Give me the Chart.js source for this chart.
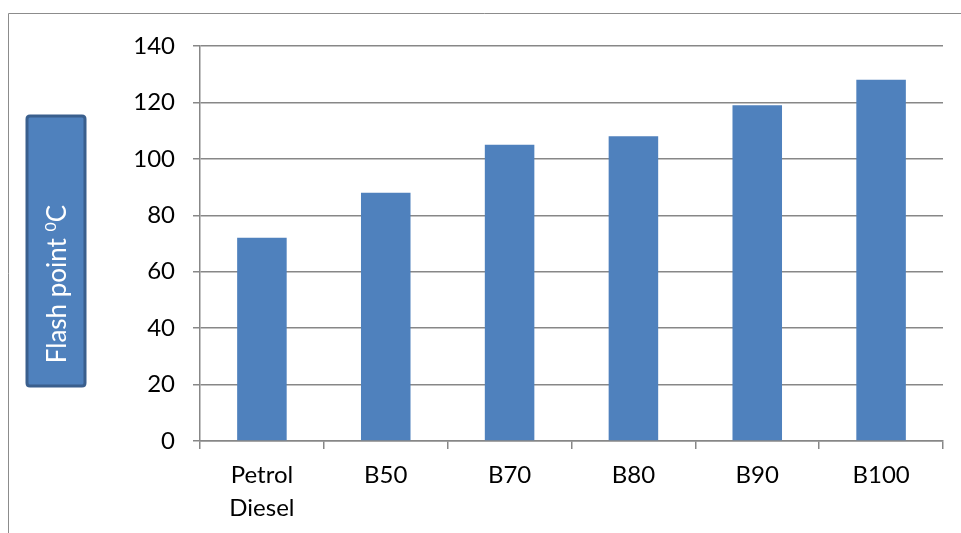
<!DOCTYPE html>
<html>
<head>
<meta charset="utf-8">
<script src="https://cdn.jsdelivr.net/npm/chart.js@4"></script>
<style>
  html, body { margin: 0; padding: 0; background: #ffffff; }
  #wrap { width: 961px; height: 533px; position: relative; }
</style>
</head>
<body>
<div id="wrap"><canvas id="c" width="961" height="533"></canvas></div>
<script>
// Fuel blends and their flash points (°C)
const categories = [['Petrol', 'Diesel'], 'B50', 'B70', 'B80', 'B90', 'B100'];
const flashPoint = [72, 88, 105, 108, 119, 128];
const yTicks = [0, 20, 40, 60, 80, 100, 120, 140];
const titleMain = 'Flash point ';
const titleSup = '0';
const titleUnit = 'C';

const FONT = 'Lato, "Liberation Sans", sans-serif';
const GRID = '#878787';

// Outer frame and the boxed axis title on the left
const decorations = {
  id: 'decorations',
  beforeDraw(chart) {
    const ctx = chart.ctx;
    ctx.save();
    ctx.strokeStyle = '#8c8c8c';
    ctx.lineWidth = 1;
    ctx.beginPath();
    ctx.moveTo(961, 13.5);
    ctx.lineTo(8.5, 13.5);
    ctx.lineTo(8.5, 533);
    ctx.stroke();
    ctx.restore();
  },
  afterDraw(chart) {
    const ctx = chart.ctx;
    ctx.save();
    const x = 27, y = 116, w = 58, h = 270, r = 3;
    ctx.beginPath();
    ctx.moveTo(x + r, y);
    ctx.lineTo(x + w - r, y);
    ctx.quadraticCurveTo(x + w, y, x + w, y + r);
    ctx.lineTo(x + w, y + h - r);
    ctx.quadraticCurveTo(x + w, y + h, x + w - r, y + h);
    ctx.lineTo(x + r, y + h);
    ctx.quadraticCurveTo(x, y + h, x, y + h - r);
    ctx.lineTo(x, y + r);
    ctx.quadraticCurveTo(x, y, x + r, y);
    ctx.closePath();
    ctx.fillStyle = '#4f81bd';
    ctx.fill();
    ctx.lineWidth = 3;
    ctx.strokeStyle = '#3a5f8d';
    ctx.stroke();

    // Rotated title: "Flash point " + superscript 0 + "C"
    const big = '26px ' + FONT;
    const small = '16px ' + FONT;
    ctx.font = big;
    const w1 = ctx.measureText(titleMain).width;
    const w3 = ctx.measureText(titleUnit).width;
    ctx.font = small;
    const w2 = ctx.measureText(titleSup).width;
    const total = w1 + w2 + w3;
    ctx.translate(66, 284);
    ctx.rotate(-Math.PI / 2);
    ctx.fillStyle = '#ffffff';
    ctx.textBaseline = 'alphabetic';
    ctx.textAlign = 'left';
    let cx = -total / 2;
    ctx.font = big;
    ctx.fillText(titleMain, cx, 0);
    cx += w1;
    ctx.font = small;
    ctx.fillText(titleSup, cx, -10);
    cx += w2;
    ctx.font = big;
    ctx.fillText(titleUnit, cx, 0);
    ctx.restore();
  }
};

new Chart(document.getElementById('c'), {
  type: 'bar',
  data: {
    labels: categories,
    datasets: [{
      data: flashPoint,
      backgroundColor: '#4f81bd',
      borderWidth: 0,
      categoryPercentage: 1.0,
      barPercentage: 0.4
    }]
  },
  options: {
    responsive: false,
    animation: false,
    devicePixelRatio: 1,
    layout: { padding: { top: 46, right: 18, left: 0, bottom: 0 } },
    plugins: { legend: { display: false }, tooltip: { enabled: false } },
    scales: {
      x: {
        afterFit(scale) { scale.height = 92; },
        grid: {
          offset: true,
          drawOnChartArea: false,
          drawTicks: true,
          tickLength: 8,
          color: GRID,
          lineWidth: 1.5
        },
        border: { color: GRID, width: 1.5 },
        ticks: {
          color: '#000000',
          font: { family: FONT, size: 24, lineHeight: 1.36 },
          padding: 10,
          maxRotation: 0,
          autoSkip: false
        }
      },
      y: {
        min: 0,
        max: 140,
        afterFit(scale) { scale.width = 200; },
        afterBuildTicks(scale) { scale.ticks = yTicks.map(v => ({ value: v })); },
        grid: {
          color: GRID,
          lineWidth: 1.5,
          drawTicks: true,
          tickLength: 7
        },
        border: { color: GRID, width: 1.5 },
        ticks: {
          color: '#000000',
          font: { family: FONT, size: 24 },
          padding: 18
        }
      }
    }
  },
  plugins: [decorations]
});
</script>
</body>
</html>
